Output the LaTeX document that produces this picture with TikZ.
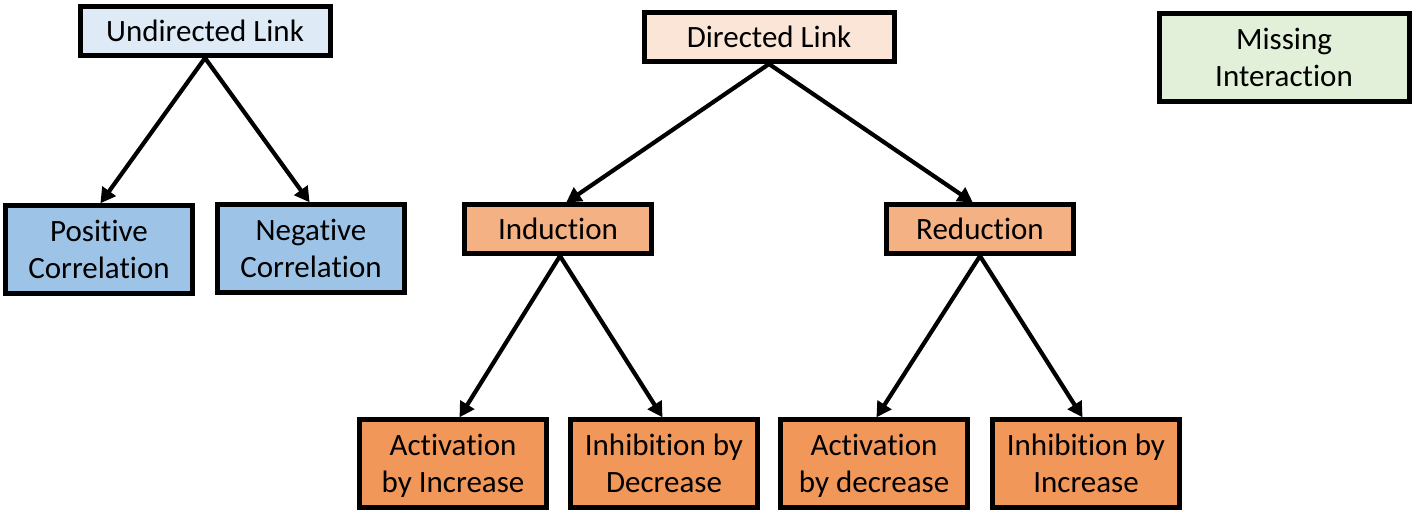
\documentclass[tikz,border=0pt]{standalone}
\usepackage{fontspec}
\setmainfont[Ligatures=NoCommon]{Carlito}
\usetikzlibrary{arrows.meta,calc}
\definecolor{ublue}{HTML}{DEEBF7}
\definecolor{cblue}{HTML}{9DC3E6}
\definecolor{dpeach}{HTML}{FBE5D6}
\definecolor{midorange}{HTML}{F4B183}
\definecolor{deeporange}{HTML}{F1975A}
\definecolor{mgreen}{HTML}{E2F0D9}
\newcommand\lnstrut{\rule[-8pt]{0pt}{37.5pt}}
\tikzset{
  box/.style={draw=black, line width=5pt, align=center, inner sep=0pt,
    font=\fontsize{31}{37.5}\selectfont, text=black},
  wide/.style={minimum width=250pt},
  narrow/.style={minimum width=187pt},
  tallbox/.style={minimum height=88pt},
  shortbox/.style={minimum height=49pt},
  conn/.style={line width=4.2pt, -{Triangle[length=15pt,width=16pt]}, shorten >=-1pt}
}
\begin{document}
\begin{tikzpicture}[x=1pt,y=-1pt]
\useasboundingbox (0,0) rectangle (1418,514);
% top row
\node[box,wide,shortbox,fill=ublue] (ul) at (205,31) {\lnstrut Undirected Link};
\node[box,wide,shortbox,fill=dpeach] (dl) at (769,37) {\lnstrut Directed Link};
\node[box,wide,tallbox,fill=mgreen] (mi) at (1284,57) {\lnstrut Missing\\\lnstrut Interaction};
% second row
\node[box,narrow,tallbox,fill=cblue] (pc) at (99,249) {\lnstrut Positive\\\lnstrut Correlation};
\node[box,narrow,tallbox,fill=cblue] (nc) at (311,248) {\lnstrut Negative\\\lnstrut Correlation};
\node[box,narrow,shortbox,fill=midorange] (ind) at (558,229) {\lnstrut Induction};
\node[box,narrow,shortbox,fill=midorange] (red) at (980,229) {\lnstrut Reduction};
% bottom row
\node[box,narrow,tallbox,fill=deeporange] (ai) at (453,463) {\lnstrut Activation\\\lnstrut by Increase};
\node[box,narrow,tallbox,fill=deeporange] (idc) at (664,463) {\lnstrut Inhibition by\\\lnstrut Decrease};
\node[box,narrow,tallbox,fill=deeporange] (ad) at (874,463) {\lnstrut Activation\\\lnstrut by decrease};
\node[box,narrow,tallbox,fill=deeporange] (ii) at (1086,463) {\lnstrut Inhibition by\\\lnstrut Increase};
% connectors
\draw[conn] (ul.south) -- ($(pc.north)+(2,0)$);
\draw[conn] (ul.south) -- ($(nc.north)+(-2,0)$);
\draw[conn] (dl.south) -- ($(ind.north)+(9,0)$);
\draw[conn] (dl.south) -- ($(red.north)+(-8,0)$);
\draw[conn] ($(ind.south)+(2,0)$) -- ($(ai.north)+(7,0)$);
\draw[conn] ($(ind.south)+(2,0)$) -- ($(idc.north)+(-2,0)$);
\draw[conn] (red.south) -- ($(ad.north)+(3,0)$);
\draw[conn] (red.south) -- ($(ii.north)+(-4,0)$);
\end{tikzpicture}
\end{document}
